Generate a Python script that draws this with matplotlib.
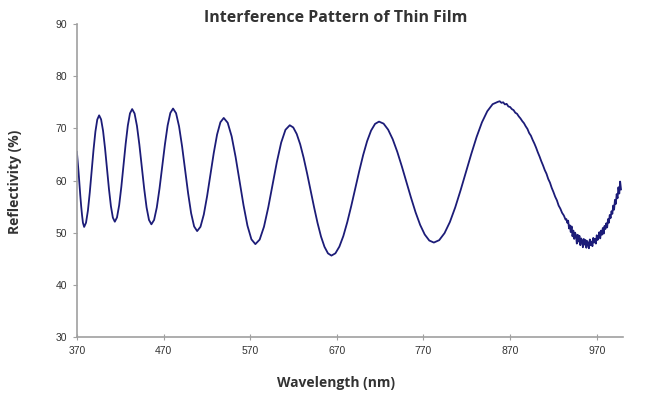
import matplotlib.pyplot as plt

# 데이터
wavelength = [370, 371, 372, 373, 374, 375, 376, 377, 378.4,
              380.56, 382.73, 384.89, 387.05, 389.21, 391.38, 393.54, 395.7,
              397.96, 400.23, 402.49, 404.75, 407.01, 409.28, 411.54, 413.8,
              416.3, 418.8, 421.3, 423.8, 426.3, 428.8, 431.3, 433.8,
              436.58, 439.35, 442.13, 444.9, 447.68, 450.45, 453.23, 456.0,
              459.13, 462.25, 465.38, 468.5, 471.63, 474.75, 477.88, 481.0,
              484.48, 487.95, 491.43, 494.9, 498.38, 501.85, 505.33, 508.8,
              512.64, 516.48, 520.31, 524.15, 527.99, 531.83, 535.66, 539.5,
              544.06, 548.63, 553.19, 557.75, 562.31, 566.88, 571.44, 576.0,
              580.96, 585.93, 590.89, 595.85, 600.81, 605.78, 610.74, 615.7,
              619.71, 623.72, 627.73, 631.73, 635.74, 639.75, 643.76, 647.77, 651.77, 655.78, 659.79, 663.8,
              668.38, 672.95, 677.53, 682.1, 686.68, 691.25, 695.83, 700.4, 704.98, 709.55, 714.13, 718.7,
              723.98, 729.25, 734.53, 739.8, 745.08, 750.35, 755.63, 760.9, 766.18, 771.45, 776.73, 782.0,
              788.17, 794.33, 800.5, 806.67, 812.83, 819.0, 825.17, 831.33, 837.5, 843.67, 849.83, 856.0,
              858, 860, 862, 864, 866, 868, 870, 872, 874, 876, 878, 880, 882, 884, 886, 888,
              890, 892, 894, 896, 898, 900, 902, 904, 906, 908, 910, 912, 914, 916, 918, 920,
              922, 924, 926, 928, 930, 932, 934,
              935, 936, 937, 938, 939, 940, 941, 942, 943, 944, 945, 946, 947, 948, 949, 950,
              951, 952, 953, 954, 955, 956, 957, 958, 959, 960, 961, 962, 963, 964, 965, 966,
              967, 968, 969, 970, 971, 972, 973, 974, 975, 976, 977, 978, 979, 980, 981, 982,
              983, 984, 985, 986, 987, 988, 989, 990, 991, 992, 993, 994, 995, 996, 997, 998]
reflectivity = [65.5, 63.6, 61.5, 59.2, 57.0, 55.0, 53.3, 51.9, 51.1,
                51.91, 54.22, 57.71, 61.80, 65.89, 69.38, 71.69, 72.5,
                71.72, 69.52, 66.20, 62.30, 58.40, 55.08, 52.88, 52.1,
                52.92, 55.25, 58.77, 62.90, 67.03, 70.55, 72.88, 73.7,
                72.86, 70.47, 66.87, 62.65, 58.43, 54.83, 52.44, 51.6,
                52.44, 54.84, 58.46, 62.70, 66.94, 70.56, 72.96, 73.8,
                72.91, 70.37, 66.54, 62.05, 57.56, 53.73, 51.19, 50.3,
                51.12, 53.47, 57.01, 61.15, 65.29, 68.83, 71.18, 72.0,
                71.08, 68.47, 64.52, 59.90, 55.28, 51.33, 48.72, 47.8,
                48.67, 51.13, 54.85, 59.20, 63.55, 67.27, 69.73, 70.6,
                70.18, 68.93, 66.95, 64.35, 61.33, 58.10, 54.88, 51.85, 49.25, 47.28, 46.03, 45.6,
                46.04, 47.32, 49.35, 52.03, 55.13, 58.45, 61.77, 64.88, 67.55, 69.58, 70.86, 71.3,
                70.91, 69.75, 67.91, 65.50, 62.69, 59.70, 56.71, 53.90, 51.49, 49.65, 48.49, 48.1,
                48.56, 49.91, 52.04, 54.85, 58.12, 61.60, 65.08, 68.35, 71.16, 73.29, 74.64, 75.1,
                75.2, 74.9, 75.0, 74.6, 74.7, 74.2, 74.1, 73.7, 73.5, 73.0, 72.8, 72.3, 71.9, 71.4, 71.0, 70.4,
                69.9, 69.1, 68.6, 67.8, 67.1, 66.3, 65.4, 64.6, 63.7, 62.9, 62.0, 61.3, 60.3, 59.6, 58.6, 57.8,
                56.9, 56.2, 55.2, 54.6, 53.8, 53.3, 52.5,
                52.6, 51.9, 52.3, 50.8, 51.4, 50.1, 51.2, 49.3, 50.4, 48.8, 50.0, 49.5, 47.9, 49.6, 48.3, 49.4,
                47.6, 48.9, 48.5, 47.2, 48.8, 47.7, 48.6, 47.1, 48.4, 47.9, 47.0, 48.7, 47.6, 48.3, 47.4, 49.0,
                48.1, 48.8, 47.9, 49.5, 48.6, 49.2, 50.1, 48.9, 50.4, 49.6, 50.9, 49.8, 51.3, 50.7, 51.8, 51.0,
                52.6, 51.9, 53.4, 52.8, 54.1, 53.6, 55.2, 54.4, 56.3, 55.5, 57.4, 56.6, 58.7, 57.5, 59.8, 58.3]
x_ticks = [370, 470, 570, 670, 770, 870, 970]
y_ticks = [30, 40, 50, 60, 70, 80, 90]

fig = plt.figure(figsize=(6.46, 3.95), dpi=100)
ax = fig.add_axes([0.119, 0.147, 0.845, 0.792])

ax.plot(wavelength, reflectivity, color='#1c1c78', linewidth=1.3)

ax.set_xlim(370, 1000)
ax.set_ylim(30, 90)
ax.set_xticks(x_ticks)
ax.set_yticks(y_ticks)

for side in ['top', 'right']:
    ax.spines[side].set_visible(False)
for side in ['left', 'bottom']:
    ax.spines[side].set_color('#a0a0a0')
    ax.spines[side].set_linewidth(1.2)

ax.tick_params(axis='y', direction='out', length=3, color='#a0a0a0', pad=4,
               labelsize=7.5, labelcolor='#333333')
ax.tick_params(axis='x', direction='inout', length=5, color='#a0a0a0', pad=4,
               labelsize=7.5, labelcolor='#333333')
for lbl in ax.get_xticklabels() + ax.get_yticklabels():
    lbl.set_family('Liberation Sans')

fig.text(0.52, 0.955, 'Interference Pattern of Thin Film', ha='center', va='center',
         fontsize=11.5, fontweight='bold', family='Open Sans', color='#333333')
fig.text(0.52, 0.03, 'Wavelength (nm)', ha='center', va='center',
         fontsize=10, fontweight='bold', family='Open Sans', color='#333333')
fig.text(0.023, 0.54, 'Reflectivity (%)', ha='center', va='center', rotation=90,
         fontsize=10, fontweight='bold', family='Open Sans', color='#333333')

fig.savefig('out.png', dpi=100)
